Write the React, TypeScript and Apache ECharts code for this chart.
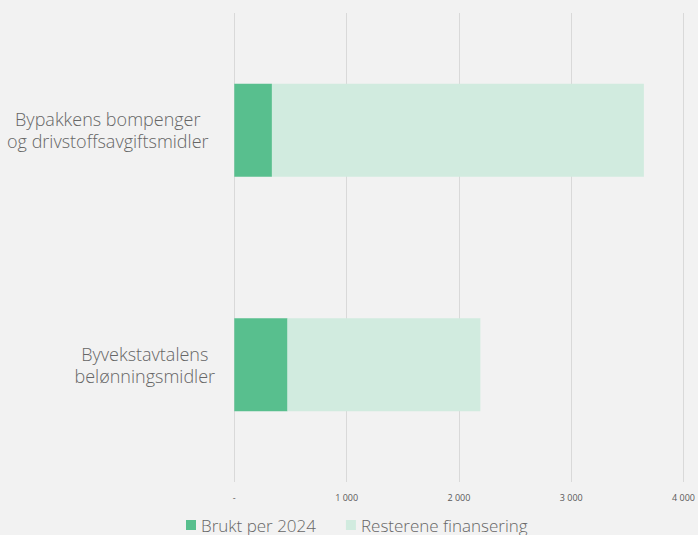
import React, { useEffect, useRef } from "react";
import * as echarts from "echarts";

const categories = ["Bypakkens bompenger\nog drivstoffsavgiftsmidler", "Byvekstavtalens\nbelønningsmidler"];
const brukt = [335, 474];
const resterende = [3312, 1717];
const seriesNames = ["Brukt per 2024", "Resterene finansering"];
const xTicks = [0, 1000, 2000, 3000, 4000];

export default function App() {
  const ref = useRef<HTMLDivElement>(null);
  useEffect(() => {
    document.body.style.margin = "0";
    const chart = echarts.init(ref.current!, null, { renderer: "svg" });
    const font = "Open Sans";
    chart.setOption({
      animation: false,
      backgroundColor: "#f2f2f2",
      textStyle: { fontFamily: font },
      grid: { left: 234.3, right: 10.3, top: 13, bottom: 53, containLabel: false },
      legend: {
        bottom: 0,
        left: 186,
        padding: 0,
        itemWidth: 10,
        itemHeight: 10,
        itemGap: 30,
        icon: "rect",
        textStyle: { fontSize: 17, lineHeight: 20, color: "#666666", fontFamily: font, fontWeight: 300 },
        data: seriesNames,
      },
      xAxis: {
        type: "value",
        min: xTicks[0],
        max: xTicks[xTicks.length - 1],
        interval: 1000,
        axisLine: { show: false },
        axisTick: { show: false },
        splitLine: { show: true, lineStyle: { color: "#d9d9d9", width: 1 } },
        axisLabel: {
          fontSize: 9,
          color: "#595959",
          margin: 11,
          fontFamily: font,
          formatter: (v: number) => (v === 0 ? "-" : String(v).replace(/\B(?=(\d{3})+(?!\d))/g, " ")),
        },
      },
      yAxis: {
        type: "category",
        inverse: true,
        data: categories,
        axisLine: { show: false },
        axisTick: { show: false },
        splitLine: { show: false },
        axisLabel: {
          align: "center",
          margin: 89.5,
          color: "#666666",
          fontSize: 18,
          lineHeight: 22,
          fontFamily: font,
          formatter: (v: string, i: number) =>
            v.split("\n").map((l) => `{${i === 0 ? "a" : "b"}|${l}}`).join("\n"),
          rich: {
            a: { fontSize: 18, lineHeight: 22, color: "#666666", fontFamily: font, fontWeight: 300, padding: [0, 74, 0, 0] },
            b: { fontSize: 18, lineHeight: 22, color: "#666666", fontFamily: font, fontWeight: 300 },
          },
        },
      },
      series: [
        {
          name: seriesNames[0],
          type: "bar",
          stack: "total",
          barWidth: 93,
          itemStyle: { color: "#58bf8e" },
          data: brukt,
        },
        {
          name: seriesNames[1],
          type: "bar",
          stack: "total",
          barWidth: 93,
          itemStyle: { color: "#d1ebdf" },
          data: resterende,
        },
      ],
    });
    return () => chart.dispose();
  }, []);
  return <div ref={ref} style={{ position: "fixed", left: 0, top: 0, width: 698, height: 535 }} />;
}
